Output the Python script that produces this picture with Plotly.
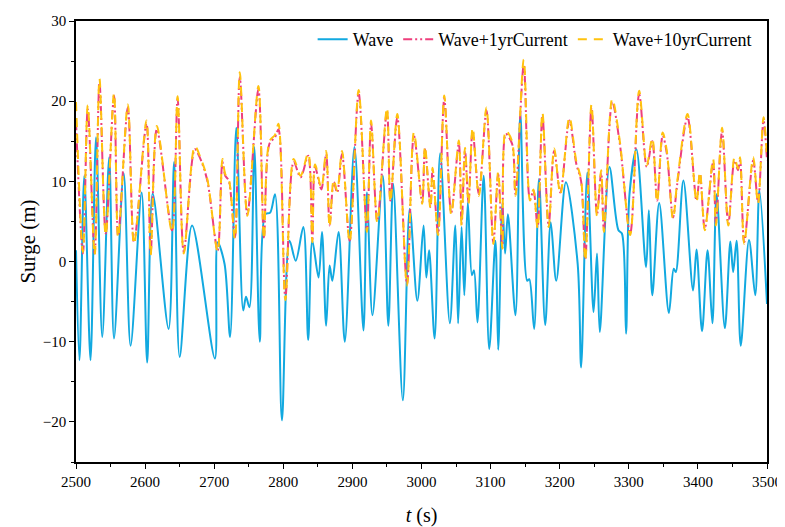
import plotly.graph_objects as go

# ---- data (times in s, surge in m) ----
t_wave = [2500,2505,2512,2521,2529,2538,2548,2555,2569,2579,2595,2603,2611,2634,2642,2650,2668,2701,2705,2715,
          2723,2732,2742,2746,2751,2758,2766,2774,2781,2788,2798,2809,2818,2829,2836,2842,2851,2856,2862,2867,
          2871,2880,2889,2903,2916,2921,2929,2944,2952,2959,2973,2983,2994,3003,3007,3011,3019,3027,3041,3049,
          3053,3058,3062,3067,3073,3076,3081,3090,3098,3107,3111,3117,3121,3125,3136,3143,3153,3156,3163,3170,
          3179,3187,3195,3209,3226,3231,3240,3249,3254,3258,3272,3285,3290,3296,3301,3311,3325,3329,3334,3344,
          3358,3365,3368,3379,3393,3398,3406,3414,3421,3427,3439,3447,3451,3456,3462,3474,3483,3489,3500]
wave = [1.4,-12.3,10.7,-12.3,15.5,-9.4,13,-9.6,11,-10.5,8.6,-12.6,8.5,-8.4,12.4,-11.9,4.5,-12.1,2.4,-0.3,
        -9.4,16.7,-6.1,-4.4,-5.7,14.3,-10,5.9,6.1,8.4,-19.8,2.6,0.1,4.3,-9.8,2.6,-2,3.7,-8,-0.5,
        -2.4,3.7,-10,14.3,-8.6,8.6,-6.7,10.7,-8,9.7,-17.3,6.6,-4.9,4.5,-2,1.4,-9.6,13.5,-7.7,4.5,
        -7.7,4.3,-4.2,7.4,-1.7,-1.1,-7.6,10.7,-10.9,2.6,-11,7.2,1,5.9,-6.7,18.4,-2.4,-2.2,-8.4,10.3,
        -7.9,4.9,-2.4,9.9,-0.3,-13.2,11.1,-6.3,1,-8.8,11.8,3.9,3.5,-9,8.4,14,-0.7,6.4,-4.2,7.3,
        -6.4,-0.9,-1.3,10.1,-3.6,1.5,-8.7,1.4,-7.7,8.4,-8.3,2.5,-1.3,2.6,-10.5,2.7,-4.2,8.9,-5.3]

t_cur = [2500,2510,2517,2527,2534,2543,2555,2561,2575,2584,2602,2608,2617,2639,2647,2656,2672,2680,2690,2705,
         2712,2716,2721,2730,2737,2748,2764,2772,2780,2788,2793,2803,2815,2825,2836,2842,2846,2855,2862,2867,
         2873,2878,2885,2896,2909,2921,2927,2936,2950,2955,2965,2979,2989,3001,3005,3013,3016,3024,3033,3043,
         3054,3058,3063,3068,3074,3083,3094,3104,3111,3117,3122,3131,3136,3148,3157,3162,3168,3175,3184,3192,
         3201,3214,3224,3231,3237,3246,3254,3260,3264,3276,3287,3302,3315,3326,3334,3341,3349,3355,3364,3370,
         3385,3398,3403,3410,3422,3426,3435,3444,3453,3458,3461,3467,3480,3487,3495,3500]
cur1 = [17.5,1,19,1,22.3,3.5,20.7,3.2,19.2,2.4,17.2,1,16.5,3.9,20.3,1.2,14,12.8,10.1,1.4,
        12.4,10.7,10.1,3,23,5.9,21.5,3,14.7,15.5,16.5,-4.5,12.4,10.5,13.2,2.6,11.8,9,13.4,4.5,
        9.9,8.6,13.4,2.6,21,3.9,17.2,5.1,18.8,7.6,18,-2.8,15.7,7.4,14,6.8,11.4,3.5,20.3,6.1,
        14.7,4.7,13.8,7.4,16.3,8.4,18.8,2.4,10.9,1.8,15.9,14.7,8.4,24.5,7.8,8.8,4.3,18.2,4.5,13.8,
        8.6,17.6,12.2,10,0.3,19.2,5.9,11.1,3.9,19.9,14.7,3.5,20.9,11.8,15,7.6,15.7,13.5,5.5,9.6,
        18,7.6,10.9,4.1,12.4,4.7,16.3,4.7,12.6,11.4,12.6,2.4,12.6,7.4,17.6,12.6]
cur10 = [19.9,1.2,19.5,0.8,22.8,3.3,21.0,3.0,19.6,2.2,17.6,0.8,16.9,3.7,20.6,1.0,14.4,13.0,10.3,1.2,
         12.8,10.9,10.3,2.8,23.6,5.7,21.9,2.8,15.0,15.8,17.2,-4.8,12.8,10.7,13.5,2.4,12.1,9.2,13.8,4.3,
         10.2,8.8,13.8,2.4,21.4,3.7,17.6,4.9,19.2,7.4,18.4,-3.0,16.1,7.2,14.4,6.6,11.7,3.3,20.7,5.9,
         15.1,4.5,14.2,7.2,16.7,8.2,19.2,2.2,11.2,1.6,16.3,15.0,8.2,25.2,7.6,9.0,4.1,18.6,4.3,14.1,
         8.4,18.0,12.5,10.2,0.1,19.6,5.7,11.4,3.7,20.3,15.0,3.3,21.3,12.0,15.4,7.4,16.1,13.8,5.3,9.9,
         18.4,7.4,11.2,3.9,12.8,4.5,16.7,4.5,13.0,11.6,13.0,2.2,13.0,7.2,18.0,12.9]

assert len(t_wave) == len(wave)
assert len(t_cur) == len(cur1) == len(cur10)

x_ticks = [2500, 2600, 2700, 2800, 2900, 3000, 3100, 3200, 3300, 3400, 3500]
y_ticks = [-20, -10, 0, 10, 20, 30]

BLUE = "#12A9E0"
PINK = "#EE3F7C"
YELLOW = "#FFC20E"
FONT = "Liberation Serif"

fig = go.Figure()
fig.add_trace(go.Scatter(x=t_wave, y=wave, mode="lines", name="Wave",
                         line=dict(color=BLUE, width=2, shape="spline", smoothing=0.9)))
fig.add_trace(go.Scatter(x=t_cur, y=cur1, mode="lines", name="Wave+1yrCurrent",
                         line=dict(color=PINK, width=2, shape="spline", smoothing=0.9,
                                   dash="9px,3px,2px,3px,2px,3px")))
fig.add_trace(go.Scatter(x=t_cur, y=cur10, mode="lines", name="Wave+10yrCurrent",
                         line=dict(color=YELLOW, width=2, shape="spline", smoothing=0.9,
                                   dash="9px,7px")))

axis_common = dict(showline=True, linecolor="black", linewidth=1.5, mirror=True,
                   showgrid=False, zeroline=False, ticks="outside", ticklen=5,
                   tickcolor="black", tickwidth=1.2, automargin=False,
                   tickfont=dict(family=FONT, size=15, color="black"))

fig.update_xaxes(range=[2500, 3500], tickvals=x_ticks,
                 title=dict(text="<i>t</i> (s)", font=dict(family=FONT, size=20, color="black"), standoff=19),
                 minor=dict(dtick=50, ticks="outside", ticklen=3, tickcolor="black", tickwidth=1.2),
                 **axis_common)
fig.update_yaxes(range=[-25, 30], tickvals=y_ticks,
                 title=dict(text="Surge (m)", font=dict(family=FONT, size=21, color="black"), standoff=1),
                 minor=dict(dtick=5, ticks="outside", ticklen=3, tickcolor="black", tickwidth=1.2),
                 **axis_common)

# the page adds an 8px body margin, so the figure is sized 8px smaller
fig.update_layout(
    width=777, height=519,
    margin=dict(l=68, r=18, t=13, b=65),
    paper_bgcolor="white", plot_bgcolor="white",
    font=dict(family=FONT, color="black"),
    legend=dict(orientation="h", x=0.985, xanchor="right", y=1.0, yanchor="top",
                bgcolor="rgba(0,0,0,0)", font=dict(family=FONT, size=18, color="black"),
                tracegroupgap=0, itemwidth=30),
    showlegend=True,
)

fig.write_html("out.html")
